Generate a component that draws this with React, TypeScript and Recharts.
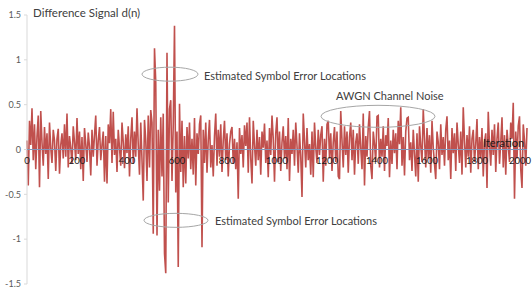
import React from 'react';
import { LineChart, Line, XAxis, YAxis, ReferenceLine, ReferenceDot } from 'recharts';

// iteration step between samples
const STEP = 5;

// d(n), iterations 0..245
const seg0 = [0.10, -0.40, 0.32, 0.05, 0.46, -0.12, 0.28, -0.22, 0.15, 0.38,
  -0.42, 0.43, 0.08, -0.18, 0.25, -0.05, 0.18, -0.33, 0.30, 0.02,
  -0.15, 0.22, 0.10, -0.24, 0.12, 0.23, -0.27, 0.05, 0.18, -0.10,
  0.28, -0.08, 0.40, -0.20, 0.15, 0.02, -0.16, 0.26, 0.08, -0.12,
  0.35, -0.05, 0.20, -0.22, 0.14, -0.35, 0.24, 0.06, -0.14, 0.19];
// 250..495
const seg1 = [0.03, -0.29, 0.22, -0.08, 0.16, 0.38, -0.18, 0.10, 0.25, -0.12,
  0.05, 0.20, -0.36, 0.15, -0.38, 0.28, 0.07, 0.45, -0.15, 0.42,
  -0.06, 0.12, -0.25, 0.22, 0.02, -0.18, 0.30, 0.08, -0.21, 0.17,
  -0.04, 0.26, -0.30, 0.12, 0.36, -0.16, 0.20, -0.08, 0.46, 0.05,
  -0.28, 0.30, -0.12, -0.57, 0.33, 0.10, -0.35, 0.38, -0.20, 0.44];
// 500..745 (symbol error region)
const seg2 = [0.30, -0.94, 1.13, 0.75, -0.96, 0.22, -0.46, 0.36, -0.30, 0.40,
  -1.16, -1.38, 1.08, -0.59, 0.45, 0.55, -0.35, 0.28, 1.38, -0.48,
  0.20, -1.31, 0.51, -0.25, 0.32, -0.42, 0.15, -0.38, 0.25, -0.10,
  0.30, -0.22, 0.12, -0.28, 0.35, -0.40, 0.18, -0.05, 0.28, 0.38,
  -1.09, 0.22, -0.15, 0.30, -0.26, 0.10, 0.33, -0.20, 0.05, -0.30];
// 750..995
const seg3 = [0.15, 0.40, -0.18, 0.22, -0.08, 0.28, -0.25, 0.10, 0.32, -0.12,
  0.18, -0.30, 0.06, 0.20, 0.25, -0.16, 0.12, -0.22, 0.08, -0.55,
  0.24, -0.05, 0.16, -0.20, 0.27, 0.04, 0.30, -0.26, 0.36, -0.10,
  -0.38, 0.32, 0.05, -0.18, 0.22, -0.12, 0.14, -0.28, 0.20, 0.02,
  0.29, -0.15, 0.10, -0.31, 0.24, -0.06, 0.38, 0.12, -0.36, 0.18];
// 1000..1245
const seg4 = [0.36, -0.14, 0.20, -0.24, 0.08, 0.26, -0.10, 0.15, -0.22, 0.35,
  -0.35, 0.12, -0.05, 0.22, -0.18, 0.30, 0.04, -0.26, 0.18, -0.08,
  -0.53, 0.40, 0.10, -0.20, 0.24, -0.12, 0.06, -0.28, 0.20, -0.31,
  0.30, 0.02, -0.15, 0.22, -0.06, 0.16, 0.26, -0.36, 0.12, -0.18,
  0.28, 0.32, -0.10, 0.18, -0.24, 0.08, 0.25, -0.14, 0.20, -0.30];
// 1250..1495
const seg5 = [-0.33, 0.43, 0.10, -0.20, 0.26, -0.06, 0.20, -0.26, 0.14, 0.30,
  -0.12, 0.22, -0.28, 0.08, 0.18, -0.16, 0.28, 0.02, -0.22, 0.40,
  -0.40, 0.15, -0.08, 0.25, 0.43, -0.18, -0.33, 0.20, 0.06, -0.14,
  0.37, 0.38, -0.20, 0.12, -0.08, 0.26, -0.24, 0.16, 0.04, 0.35,
  -0.31, 0.10, -0.16, 0.22, -0.04, 0.18, -0.22, 0.32, 0.06, 0.47];
// 1500..1745
const seg6 = [-0.18, 0.14, -0.29, 0.20, 0.35, 0.36, -0.12, 0.08, -0.24, 0.22,
  -0.05, -0.30, 0.18, -0.36, 0.26, 0.04, -0.14, 0.45, 0.12, -0.20,
  0.24, -0.10, 0.16, -0.26, 0.32, 0.02, -0.16, -0.33, 0.20, 0.08,
  -0.22, 0.28, -0.06, 0.14, -0.18, 0.22, 0.37, -0.12, 0.10, -0.33,
  0.24, -0.04, 0.18, -0.24, 0.30, 0.06, -0.15, 0.20, -0.28, 0.47];
// 1750..2000
const seg7 = [0.10, -0.20, 0.16, -0.08, 0.26, -0.26, 0.12, 0.22, -0.14, 0.06,
  0.34, -0.22, 0.14, -0.10, 0.24, -0.30, 0.08, 0.18, -0.43, 0.42,
  0.05, -0.18, 0.22, -0.06, 0.28, -0.25, 0.12, 0.30, -0.16, 0.08,
  0.36, -0.20, 0.16, -0.28, 0.22, 0.04, -0.14, 0.30, 0.12, 0.52,
  -0.55, 0.20, -0.10, 0.26, 0.37, -0.22, -0.43, 0.28, 0.10, -0.18, 0.24];

const xTicks = [0, 200, 400, 600, 800, 1000, 1200, 1400, 1600, 1800, 2000];
const yTicks = [-1.5, -1, -0.5, 0, 0.5, 1, 1.5];

const titleText = 'Difference Signal d(n)';
const xAxisTitle = 'Iteration';
const errText = 'Estimated Symbol Error Locations';
const noiseText = 'AWGN Channel Noise';

const values = [...seg0, ...seg1, ...seg2, ...seg3, ...seg4, ...seg5, ...seg6, ...seg7];
const data = values.map((d, i) => ({ n: i * STEP, d }));

const FONT = 'Lato, "Noto Sans", sans-serif';
const TEXT_COLOR = '#404040';
const W = 532;
const H = 292;
const MARGIN = { top: 15, right: 5, bottom: 8, left: 0 };
const Y_AXIS_W = 27;

const ellipseShape = (rx: number, ry: number) => (props: any) => (
  <ellipse cx={props.cx} cy={props.cy} rx={rx} ry={ry} fill="none" stroke="#a6a6a6" strokeWidth={1} />
);

const textShape = (label: string, size: number, color: string) => (props: any) => (
  <text x={props.cx} y={props.cy} dominantBaseline="central" fontSize={size}
    fill={color} fontFamily={FONT}>{label}</text>
);

// x tick labels sit just under the zero line, as in the reference
const xTickShape = (label: string, last: boolean) => (props: any) => (
  <text x={last ? props.cx + 4 : props.cx} y={props.cy + 11} textAnchor={last ? 'end' : 'middle'}
    dominantBaseline="central" fontSize={9.5} fill="#1a1a1a" fontFamily={FONT}>{label}</text>
);

export default function App() {
  return (
    <div style={{ position: 'absolute', left: 0, top: 0, width: W, height: H, background: '#fff' }}>
      <div style={{ position: 'absolute', left: 0, top: 0 }}>
        <LineChart width={W} height={H} data={data} margin={MARGIN}>
          <XAxis dataKey="n" type="number" domain={[0, 2000]} ticks={xTicks} height={0}
            axisLine={false} tickLine={false} tick={false} />
          <YAxis type="number" domain={[-1.5, 1.5]} ticks={yTicks} width={Y_AXIS_W}
            axisLine={{ stroke: '#d9d9d9' }} tickLine={{ stroke: '#d9d9d9' }} tickSize={3} tickMargin={3}
            tick={{ fontSize: 9, fill: '#595959', fontFamily: FONT }} interval={0} />
          <Line type="linear" dataKey="d" stroke="#C0504D" strokeWidth={1.6} dot={false} isAnimationActive={false} />
        </LineChart>
      </div>
      {/* annotation layer on the same scales, drawn above the series */}
      <div style={{ position: 'absolute', left: 0, top: 0, pointerEvents: 'none' }}>
        <LineChart width={W} height={H} data={data} margin={MARGIN}>
          <XAxis dataKey="n" type="number" domain={[0, 2000]} ticks={xTicks} height={0}
            axisLine={false} tickLine={false} tick={false} />
          <YAxis type="number" domain={[-1.5, 1.5]} ticks={yTicks} width={Y_AXIS_W}
            axisLine={false} tickLine={false} tick={false} />
          <Line type="linear" dataKey="d" stroke="none" strokeOpacity={0} dot={false} activeDot={false}
            isAnimationActive={false} />
          <ReferenceLine y={0} stroke="#8394b8" strokeWidth={1} />
          {xTicks.map((t, i) => (
            <ReferenceDot key={t} x={t} y={0} r={0} ifOverflow="visible"
              shape={xTickShape(String(t), i === xTicks.length - 1)} />
          ))}
          <ReferenceDot x={572} y={0.84} r={0} ifOverflow="visible" shape={ellipseShape(28, 7)} />
          <ReferenceDot x={596} y={-0.79} r={0} ifOverflow="visible" shape={ellipseShape(32, 7)} />
          <ReferenceDot x={1404} y={0.37} r={0} ifOverflow="visible" shape={ellipseShape(57, 11)} />
          <ReferenceDot x={708} y={0.83} r={0} ifOverflow="visible" shape={textShape(errText, 11, TEXT_COLOR)} />
          <ReferenceDot x={752} y={-0.79} r={0} ifOverflow="visible" shape={textShape(errText, 11, TEXT_COLOR)} />
          <ReferenceDot x={1236} y={0.6} r={0} ifOverflow="visible" shape={textShape(noiseText, 11, TEXT_COLOR)} />
          <ReferenceDot x={1824} y={0.08} r={0} ifOverflow="visible" shape={textShape(xAxisTitle, 11, '#1a1a1a')} />
        </LineChart>
      </div>
      <div style={{ position: 'absolute', left: 33, top: 5, fontFamily: FONT, fontSize: 11.5, color: TEXT_COLOR, lineHeight: '16px', whiteSpace: 'nowrap' }}>
        {titleText}
      </div>
    </div>
  );
}
